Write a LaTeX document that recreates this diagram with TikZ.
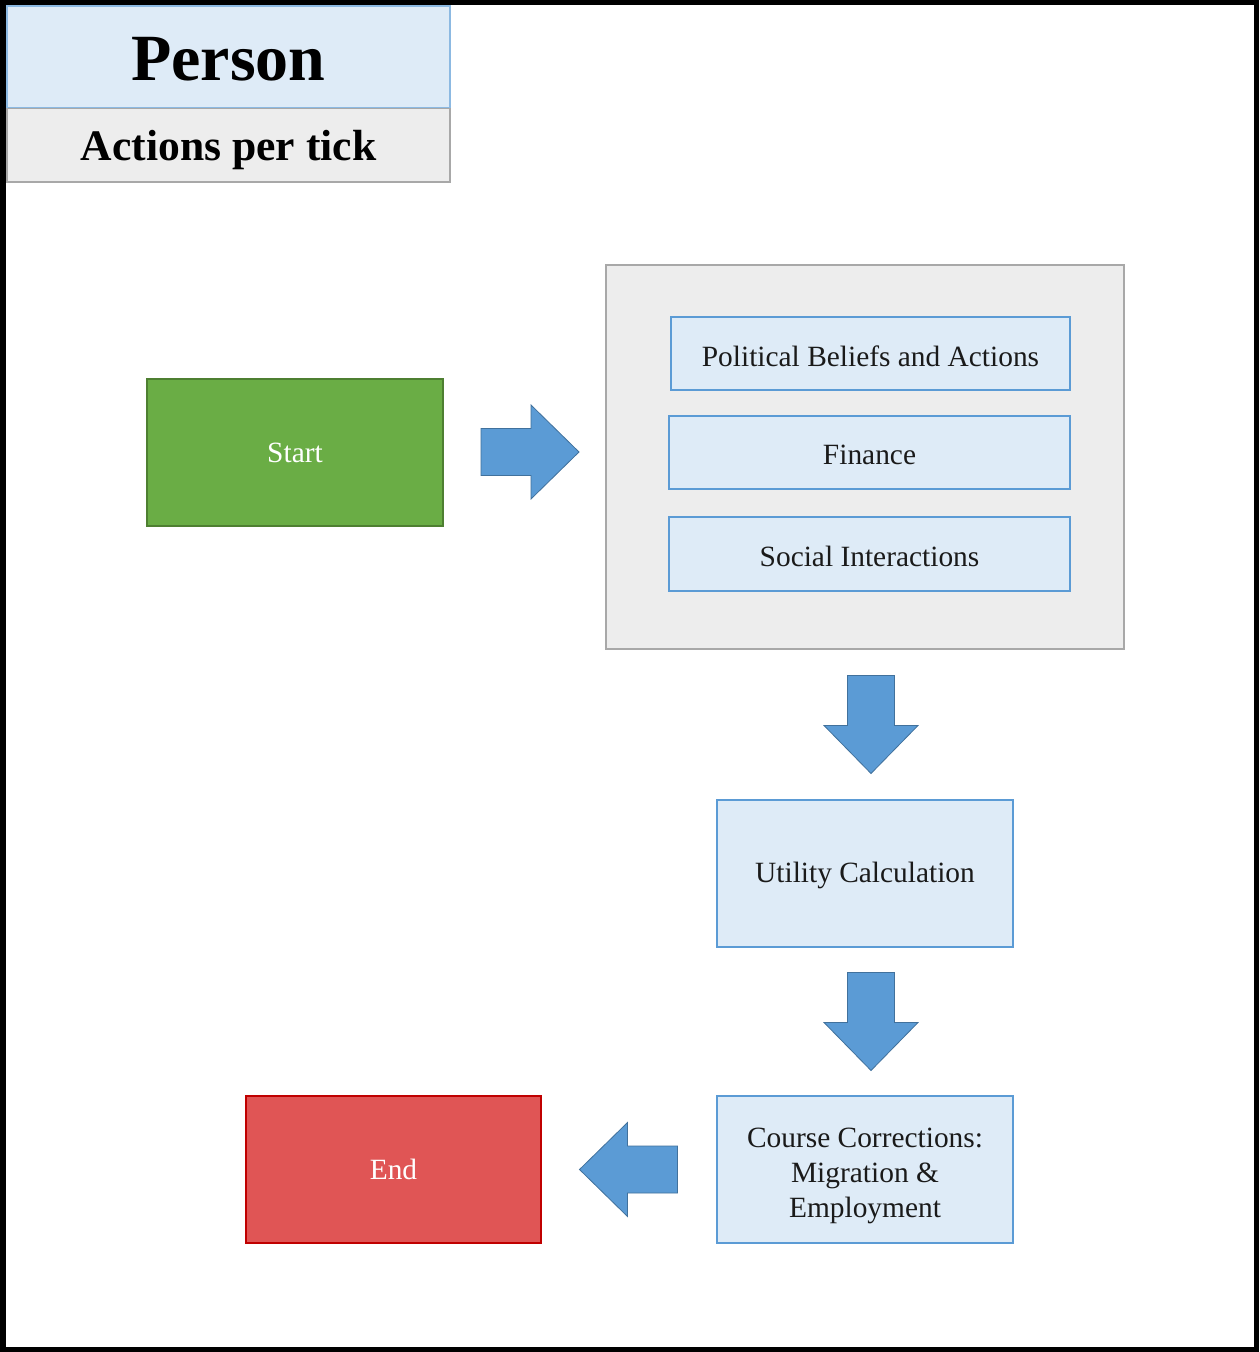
\documentclass[tikz,border=0pt]{standalone}
\usepackage{fontspec}
\setmainfont{Liberation Serif}
\usetikzlibrary{calc}
\definecolor{lblue}{HTML}{DEEBF7}
\definecolor{bblue}{HTML}{5B9BD5}
\definecolor{lgray}{HTML}{EDEDED}
\definecolor{bgray}{HTML}{A8A8A8}
\definecolor{sgreen}{HTML}{6AAD45}
\definecolor{dgreen}{HTML}{4E7F31}
\definecolor{ered}{HTML}{E05555}
\definecolor{dred}{HTML}{C00000}
\definecolor{arrfill}{HTML}{5B9BD5}
\definecolor{arrdraw}{HTML}{41719C}
\definecolor{txt}{HTML}{1A1A1A}
\tikzset{
  bodyfont/.style={font=\fontsize{14.7}{17.5}\selectfont, text=txt},
  boxtext/.style={label={[bodyfont, align=center, inner sep=0pt, yshift=-1.2pt]center:#1}},
  boxtextlow/.style={label={[bodyfont, align=center, inner sep=0pt, yshift=-3.4pt]center:#1}},
  bluebox/.style={draw=bblue, fill=lblue, line width=0.7pt, inner sep=0pt},
  termbox/.style={line width=0.7pt, bodyfont, text=white, inner sep=0pt},
  blockarrow/.pic={
    \filldraw[fill=arrfill, draw=arrdraw, line width=0.4pt, line join=miter]
      (-49,-23.5) -- (1,-23.5) -- (1,-47) -- (49,0) -- (1,47) -- (1,23.5) -- (-49,23.5) -- cycle;
  }
}
\begin{document}
\begin{tikzpicture}[x=0.5pt, y=-0.5pt]
\useasboundingbox (0,0) rectangle (1259,1352);
\fill[white] (0,0) rectangle (1259,1352);
% outer frame
\draw[black, line width=2.6pt] (3,2.6) rectangle (1256.4,1349.4);

% header
\node[draw=bgray, fill=lgray, line width=0.6pt, minimum width=221.5pt, minimum height=37pt, inner sep=0pt,
      label={[font=\fontsize{21.8}{24}\selectfont\bfseries, text=black, inner sep=0pt, yshift=-2.5pt]center:Actions per tick}] (acts) at (228.5,145) {};
\node[draw=bblue!70, fill=lblue, line width=0.6pt, minimum width=221.5pt, minimum height=51pt, inner sep=0pt,
      label={[font=\fontsize{33}{36}\selectfont\bfseries, text=black, inner sep=0pt, yshift=-1pt]center:Person}] (person) at (228.5,57) {};
\draw[bgray, line width=0.6pt] (person.south west) -- (person.south east);

% container
\node[draw=bgray, fill=lgray, line width=0.7pt, minimum width=259pt, minimum height=192pt, inner sep=0pt] (grp) at (865,457) {};
\node[bluebox, minimum width=199.5pt, minimum height=36.5pt, boxtext={Political Beliefs and Actions}] (pol) at (870.5,353.5) {};
\node[bluebox, minimum width=200.5pt, minimum height=36.5pt, boxtext={Finance}] (fin) at (869.5,452.5) {};
\node[bluebox, minimum width=200.5pt, minimum height=37pt, boxtext={Social Interactions}] (soc) at (869.5,554) {};

% start / end
\node[termbox, draw=dgreen, fill=sgreen, minimum width=148pt, minimum height=73.5pt] (start) at (295,452.5) {Start};
\node[termbox, draw=dred, fill=ered, minimum width=147.5pt, minimum height=73.5pt] (end) at (393.5,1169.5) {End};

% process boxes
\node[bluebox, minimum width=148pt, minimum height=73.5pt, boxtext={Utility Calculation}] (util) at (865,873.5) {};
\node[bluebox, minimum width=148pt, minimum height=73.5pt, boxtextlow={Course Corrections:\\Migration \&\\Employment}] (course) at (865,1169.5) {};

% block arrows
\pic at ($(start.east)!0.5!(grp.west)+(5.5,-2.75)$) {blockarrow};
\pic[rotate=-90] at ($(grp.south)!0.5!(util.north)+(6,0)$) {blockarrow};
\pic[rotate=-90] at ($(util.south)!0.5!(course.north)+(6,0)$) {blockarrow};
\pic[rotate=180] at ($(end.east)!0.5!(course.west)+(-0.5,0)$) {blockarrow};
\end{tikzpicture}
\end{document}
